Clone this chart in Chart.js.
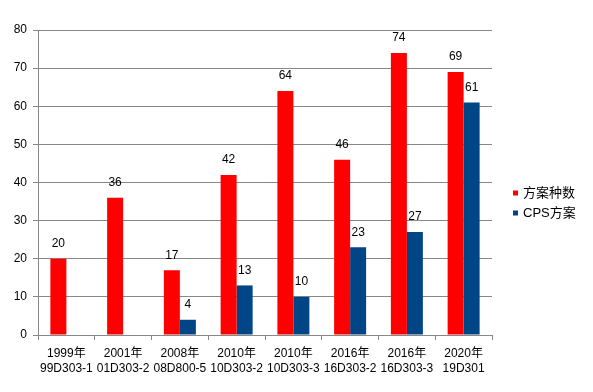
<!DOCTYPE html>
<html>
<head>
<meta charset="utf-8">
<script src="https://cdn.jsdelivr.net/npm/chart.js@4.4.0/dist/chart.umd.min.js"></script>
<style>
html,body{margin:0;padding:0;background:#fff;}
#wrap{width:593px;height:392px;position:relative;}
</style>
</head>
<body>
<div id="wrap"><canvas id="c" width="593" height="392"></canvas></div>
<script>
const categories = [
  ["1999年","99D303-1"],
  ["2001年","01D303-2"],
  ["2008年","08D800-5"],
  ["2010年","10D303-2"],
  ["2010年","10D303-3"],
  ["2016年","16D303-2"],
  ["2016年","16D303-3"],
  ["2020年","19D301"]
];
const seriesNames = ["方案种数", "CPS方案"];
const schemeCounts = [20, 36, 17, 42, 64, 46, 74, 69];
const cpsCounts = [null, null, 4, 13, 10, 23, 27, 61];
const yTicks = [0, 10, 20, 30, 40, 50, 60, 70, 80];

const FONT = "'Liberation Sans', Arial, sans-serif";
const CJKFONT = "'Liberation Sans', 'Noto Sans CJK SC', sans-serif";

const valueLabels = {
  id: 'valueLabels',
  afterDatasetsDraw(chart) {
    const ctx = chart.ctx;
    ctx.save();
    ctx.font = "12px " + CJKFONT;
    ctx.fillStyle = '#000';
    ctx.textAlign = 'center';
    ctx.textBaseline = 'middle';
    chart.data.datasets.forEach((ds, di) => {
      const meta = chart.getDatasetMeta(di);
      meta.data.forEach((el, i) => {
        const v = ds.data[i];
        if (v === null || v === undefined) return;
        ctx.fillText(String(v), el.x, el.y - 15);
      });
    });
    ctx.restore();
  }
};

const sideLegend = {
  id: 'sideLegend',
  afterDraw(chart) {
    const ctx = chart.ctx;
    ctx.save();
    ctx.font = "13px " + CJKFONT;
    ctx.textBaseline = 'middle';
    ctx.textAlign = 'left';
    const x0 = chart.chartArea.right + 21;
    const y0 = 193;
    chart.data.datasets.forEach((ds, i) => {
      const y = y0 + i * 20;
      ctx.fillStyle = ds.backgroundColor;
      ctx.fillRect(x0, y - 2.5, 5, 5);
      ctx.fillStyle = '#000';
      ctx.fillText(ds.label, x0 + 10, y);
    });
    ctx.restore();
  }
};

new Chart(document.getElementById('c'), {
  type: 'bar',
  data: {
    labels: categories,
    datasets: [
      { label: seriesNames[0], data: schemeCounts, backgroundColor: '#ff0000', borderWidth: 0 },
      { label: seriesNames[1], data: cpsCounts, backgroundColor: '#004586', borderWidth: 0 }
    ]
  },
  options: {
    responsive: false,
    animation: false,
    events: [],
    layout: { padding: { left: 0, right: 101, top: 30, bottom: 0 } },
    plugins: { legend: { display: false }, tooltip: { enabled: false } },
    datasets: { bar: { categoryPercentage: 0.564, barPercentage: 1.0 } },
    scales: {
      x: {
        grid: { drawOnChartArea: false, drawTicks: true, tickLength: 5, color: '#888888', offset: true },
        border: { color: '#888888', width: 1 },
        ticks: { autoSkip: false, maxRotation: 0, minRotation: 0, color: '#000', padding: 6, font: { size: 12, family: CJKFONT, lineHeight: 1.25 } },
        afterFit(scale) { scale.height = 57; }
      },
      y: {
        min: 0, max: 80,
        afterBuildTicks(scale) { scale.ticks = yTicks.map(v => ({ value: v })); },
        grid: { color: '#888888', tickLength: 5, lineWidth: 1 },
        border: { color: '#888888', width: 1 },
        ticks: { color: '#000', padding: 6, font: { size: 12, family: FONT } },
        afterFit(scale) { scale.width = 38; }
      }
    }
  },
  plugins: [valueLabels, sideLegend]
});
</script>
</body>
</html>
